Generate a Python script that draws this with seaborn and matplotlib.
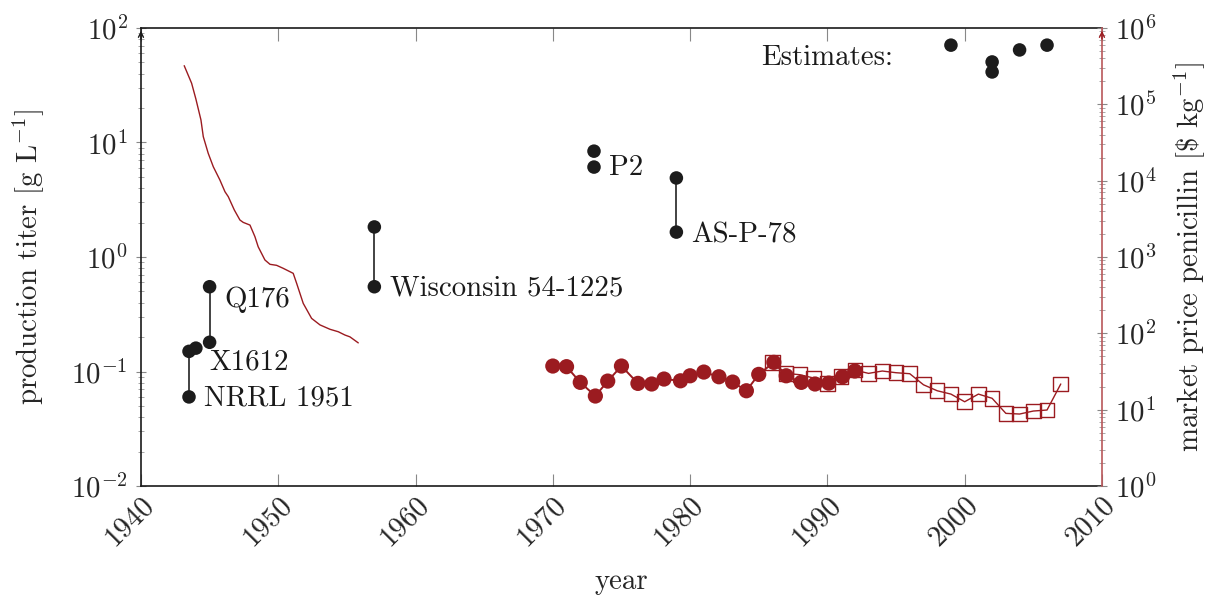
import numpy as np
import pandas as pd
import matplotlib
matplotlib.use("Agg")
import matplotlib.pyplot as plt
from matplotlib.ticker import LogLocator, NullFormatter, FixedLocator
import seaborn as sns

# ---------------- data ----------------
# historical price of penicillin (right axis, $/kg)
hist_year = [1943.15, 1943.69, 1944.0, 1944.37, 1944.54, 1944.9, 1945.27, 1945.75,
             1946.12, 1946.36, 1946.8, 1947.21, 1947.45, 1947.94, 1948.3, 1948.54,
             1949.03, 1949.4, 1949.88, 1950.36, 1951.09, 1951.34, 1951.82, 1952.43,
             1953.04, 1953.77, 1954.37, 1954.86, 1955.22, 1955.83]
hist_price = [320700, 188800, 117500, 62400, 37700, 22800, 15200, 10200,
              7160, 6170, 4130, 3050, 2840, 2620, 1850, 1360,
              914, 802, 778, 711, 611, 452, 247, 157,
              129, 113, 105, 95, 90, 75]

# market price series 1 (filled circles)
circ_year = [1970, 1971, 1972, 1973.1, 1974, 1975, 1976.2, 1977.2, 1978.1, 1979.3,
             1980, 1981, 1982.1, 1983.1, 1984.1, 1985, 1986.1, 1987, 1988.1, 1989.1,
             1990.1, 1991.1, 1992]
circ_price = [37.3, 36.6, 22.8, 15.1, 23.7, 37.3, 22.1, 21.7, 25.2, 23.9,
              27.8, 31.1, 27.0, 23.0, 17.7, 29.0, 41.7, 27.8, 22.8, 21.7,
              22.3, 27.0, 32.1]

# market price series 2 (open squares)
sq_year = list(range(1986, 2008))
sq_price = [41.2, 29.9, 28.7, 26.0, 22.1, 27.0, 33.0, 29.9, 32.1, 30.5, 29.6,
            21.2, 17.7, 16.0, 12.7, 16.0, 14.1, 8.95, 8.77, 9.6, 9.9, 21.7]

# production titers of strains (left axis, g/L)
strain_name = ["NRRL 1951", "NRRL 1951", "X1612", "Q176", "Q176",
               "Wisconsin 54-1225", "Wisconsin 54-1225", "P2", "P2", "AS-P-78", "AS-P-78"]
strain_year = [1943.5, 1943.5, 1944.0, 1945, 1945, 1957, 1957, 1973, 1973, 1979, 1979]
strain_titer = [0.06, 0.15, 0.16, 0.18, 0.55, 0.55, 1.83, 6.1, 8.4, 1.65, 4.9]
connected = ["NRRL 1951", "Q176", "Wisconsin 54-1225", "AS-P-78"]

# estimates
est_year = [1999, 2002, 2002, 2004, 2006]
est_titer = [70.8, 50.5, 41.3, 64.3, 70.8]

# labels: (text, year, titer)
labels = [("NRRL 1951", 1943.5, 0.06), ("X1612", 1944.0, 0.16), ("Q176", 1945, 0.55),
          ("Wisconsin 54-1225", 1957, 0.55), ("P2", 1973, 6.1), ("AS-P-78", 1979, 1.65)]
label_offset = {"NRRL 1951": (15, -1), "X1612": (14, -14), "Q176": (15, -13),
                "Wisconsin 54-1225": (16, -2), "P2": (15, -1), "AS-P-78": (15, -3)}

x_ticks = [1940, 1950, 1960, 1970, 1980, 1990, 2000, 2010]

# ---------------- style ----------------
sns.set_theme(style="ticks")
plt.rcParams["font.family"] = "serif"
plt.rcParams["font.serif"] = ["cmr10"]
plt.rcParams["mathtext.fontset"] = "cm"
plt.rcParams["axes.formatter.use_mathtext"] = True
plt.rcParams["axes.unicode_minus"] = True

RED = "#9b1b20"
SPINE_RED = "#b9575a"
FS = 20.8

fig = plt.figure(figsize=(12.12, 5.99), dpi=100)
ax = fig.add_axes([0.1163, 0.1886, 0.9092 - 0.1163, 0.9533 - 0.1886])
ax2 = ax.twinx()

# ---- left axis: strains ----
sdf = pd.DataFrame({"name": strain_name, "year": strain_year, "titer": strain_titer})
for nm in connected:
    sub = sdf[sdf["name"] == nm]
    sns.lineplot(data=sub, x="year", y="titer", color="#222222", lw=1.2,
                 estimator=None, sort=False, ax=ax, zorder=2)
sns.scatterplot(data=sdf, x="year", y="titer", color="#1c1c1c", s=95,
                edgecolor="none", ax=ax, zorder=3)
sns.scatterplot(x=est_year, y=est_titer, color="#1c1c1c", s=95,
                edgecolor="none", ax=ax, zorder=3)

for txt, yr, tt in labels:
    dx, dy = label_offset[txt]
    ax.annotate(txt, xy=(yr, tt), xytext=(dx, dy), textcoords="offset pixels",
                ha="left", va="center", fontsize=FS, color="#1a1a1a")
ax.text(1994.8, 54.7, "Estimates:", ha="right", va="center", fontsize=FS, color="#1a1a1a")

ax.set_yscale("log")
ax.set_ylim(1e-2, 1e2)
ax.set_xlim(1940, 2010)
ax.xaxis.set_major_locator(FixedLocator(x_ticks))
ax.set_xticklabels([str(t) for t in x_ticks])
ax.yaxis.set_major_locator(LogLocator(base=10, numticks=10))
ax.yaxis.set_minor_locator(LogLocator(base=10, subs=np.arange(2, 10), numticks=20))
ax.yaxis.set_minor_formatter(NullFormatter())
ax.set_xlabel("year", fontsize=FS, labelpad=13)
ax.set_ylabel(r"production titer [g L$^{-1}$]", fontsize=FS, labelpad=18)

ax.tick_params(axis="x", which="major", direction="in", length=9, width=0.8,
               color="#888888", top=True, bottom=True, labelsize=FS, pad=4)
for lab in ax.get_xticklabels():
    lab.set_rotation(45)
    lab.set_ha("right")
    lab.set_va("top")
    lab.set_rotation_mode("anchor")
ax.tick_params(axis="y", which="major", direction="inout", length=7, width=0.8,
               color="#888888", labelsize=FS, pad=6, right=False)
ax.tick_params(axis="y", which="minor", direction="inout", length=4, width=0.6,
               color="#999999", right=False)
for side in ["left", "top", "bottom"]:
    ax.spines[side].set_color("#1a1a1a")
    ax.spines[side].set_linewidth(1.2)
ax.spines["right"].set_visible(False)

# ---- right axis: price ----
sns.lineplot(x=sq_year, y=sq_price, color=RED, lw=1.0, ax=ax2, zorder=2)
sns.scatterplot(x=sq_year, y=sq_price, marker="s", s=110, facecolor="none",
                edgecolor=RED, linewidth=1.0, ax=ax2, zorder=3)
sns.lineplot(x=circ_year, y=circ_price, color=RED, lw=1.4, ax=ax2, zorder=4)
sns.scatterplot(x=circ_year, y=circ_price, color=RED, s=120, edgecolor="none",
                ax=ax2, zorder=5)
sns.lineplot(x=hist_year, y=hist_price, color=RED, lw=1.0, ax=ax2, zorder=2)

ax2.set_yscale("log")
ax2.set_ylim(1, 1e6)
ax2.set_xlim(1940, 2010)
ax2.yaxis.set_major_locator(LogLocator(base=10, numticks=10))
ax2.yaxis.set_minor_locator(LogLocator(base=10, subs=np.arange(2, 10), numticks=20))
ax2.yaxis.set_minor_formatter(NullFormatter())
ax2.set_ylabel(r"market price penicillin [\$ kg$^{-1}$]", fontsize=FS, labelpad=10)
ax2.tick_params(axis="y", which="major", direction="inout", length=7, width=0.8,
                color="#888888", labelsize=FS, pad=6)
ax2.tick_params(axis="y", which="minor", direction="inout", length=4, width=0.6,
                color="#999999")
for side in ["left", "top", "bottom"]:
    ax2.spines[side].set_visible(False)
ax2.spines["right"].set_visible(True)
ax2.spines["right"].set_color(SPINE_RED)
ax2.spines["right"].set_linewidth(1.2)

# arrow heads on the vertical axes
ax.annotate("", xy=(0, 1.0), xytext=(0, 0.97), xycoords="axes fraction",
            arrowprops=dict(arrowstyle="->", color="#1a1a1a", lw=1.0, mutation_scale=9))
ax2.annotate("", xy=(1, 1.0), xytext=(1, 0.97), xycoords="axes fraction",
             arrowprops=dict(arrowstyle="->", color=RED, lw=1.0, mutation_scale=9))

fig.savefig("out.png", dpi=100)
